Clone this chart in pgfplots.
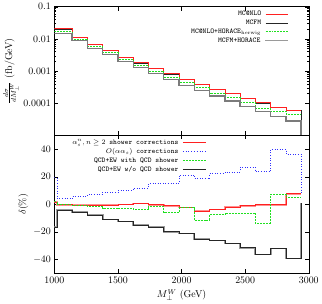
\documentclass[border=0pt]{standalone}
\usepackage{pgfplots}
\pgfplotsset{compat=1.18}
\definecolor{cred}{HTML}{FF2020}
\definecolor{cgreen}{HTML}{20E020}
\definecolor{cblue}{HTML}{3030FF}
\definecolor{cgray}{HTML}{9A9A9A}
\definecolor{cpink}{HTML}{FF9090}
\newcommand{\lsample}[1]{\hspace{4bp}\tikz[baseline=-0.55ex]\draw[#1] (0bp,0bp) -- (23bp,0bp);}
\begin{document}
\begin{tikzpicture}
\pgfplotsset{
  every axis/.append style={
    scale only axis, width=256bp, xmin=1000, xmax=3000,
    tick align=inside, major tick length=4bp, minor tick length=2bp,
    tick style={black, line width=0.4pt},
    every tick label/.append style={font=\fontsize{10}{12}\selectfont},
    label style={font=\fontsize{10}{12}\selectfont},
    xtick={1000,1500,...,3000},
    /pgf/number format/1000 sep={},
    axis line style={line width=0.6pt},
    legend cell align={right},
    legend image code/.code={},
    legend style={draw=none, fill=none, inner sep=0pt, row sep=-1.2bp,
      font=\fontsize{7.3}{8}\ttfamily,
      /tikz/every odd column/.append style={column sep=0bp}},
  },
  hist/.style={const plot mark left, no marks, forget plot},
}
\begin{axis}[name=bot, at={(0,0)}, anchor=south west, height=138.7bp,
  ymin=-50, ymax=50, ytick={-40,-20,...,40}, minor ytick={},
  xlabel={$M_\perp^W$ (GeV)}, ylabel={$\delta(\%)$},
  xlabel style={yshift=0.5bp}, ylabel style={yshift=-2bp},
  legend style={at={(rel axis cs:0.605,0.99)}, anchor=north east}]
\addplot[hist, cpink, line width=1.6bp] coordinates {
(1000,1.5) (1020,-0.3) (1140,-0.4) (1260,-0.6) (1380,-0.6) (1500,-0.2) (1620,0.5) (1740,-0.3) (1860,-1.2) (1980,-2.3) (2100,-5.0) (2220,-3.8) (2340,-2.0) (2460,-1.0) (2580,-0.7) (2700,-0.6) (2820,7.0) (2940,7.0)};
\addplot[hist, cgray, line width=1.8bp] coordinates {
(1000,-16.5) (1020,-4.3) (1140,-5.6) (1260,-7.7) (1380,-11.0) (1500,-12.4) (1620,-15.1) (1740,-16.3) (1860,-19.9) (1980,-21.1) (2100,-25.2) (2220,-26.2) (2340,-28.4) (2460,-31.5) (2580,-36.4) (2700,-32.0) (2820,-39.3) (2940,1)};
\addplot[hist, cred, line width=0.6bp] coordinates {
(1000,1.5) (1020,-0.3) (1140,-0.4) (1260,-0.5) (1380,-0.5) (1500,0.0) (1620,0.7) (1740,0.0) (1860,-0.7) (1980,-2.2) (2100,-5.2) (2220,-3.8) (2340,-1.8) (2460,-0.7) (2580,-0.3) (2700,0.3) (2820,8.0) (2940,8.0)};
\addplot[hist, cblue, line width=0.6bp, dotted] coordinates {
(1000,19.3) (1020,4.3) (1140,6.0) (1260,7.3) (1380,8.9) (1500,10.3) (1620,11.9) (1740,15.3) (1860,15.3) (1980,21.3) (2100,18.6) (2220,22.6) (2340,23.5) (2460,27.0) (2580,23.7) (2700,40.0) (2820,36.4) (2940,7.0)};
\addplot[hist, cgreen, line width=0.6bp, dash pattern=on 2bp off 1bp] coordinates {
(1000,1.9) (1020,-0.3) (1140,-0.5) (1260,-1.2) (1380,-3.2) (1500,-2.7) (1620,-3.4) (1740,-1.5) (1860,-6.1) (1980,-2.3) (2100,-11.6) (2220,-7.4) (2340,-6.3) (2460,-6.2) (2580,-13.6) (2700,7.3) (2820,4.8) (2940,4.8)};
\addplot[hist, black!85, line width=0.6bp] coordinates {
(1000,-16.5) (1020,-4.3) (1140,-5.6) (1260,-7.7) (1380,-11.0) (1500,-12.4) (1620,-15.1) (1740,-16.3) (1860,-19.9) (1980,-21.1) (2100,-25.2) (2220,-26.2) (2340,-28.4) (2460,-31.5) (2580,-36.4) (2700,-32.0) (2820,-39.3) (2940,1)};
\addlegendimage{empty legend}
\addlegendentry{$\alpha_s^n, n\geq 2$ shower corrections\lsample{cred, line width=0.8bp}}
\addlegendimage{empty legend}
\addlegendentry{$O(\alpha\alpha_s)$ corrections\lsample{cblue, line width=0.8bp, dotted}}
\addlegendimage{empty legend}
\addlegendentry{QCD+EW with QCD shower\lsample{cgreen, line width=0.8bp, dash pattern=on 2bp off 1bp}}
\addlegendimage{empty legend}
\addlegendentry{QCD+EW w/o QCD shower\lsample{black!85, line width=0.8bp}}
\end{axis}
\begin{axis}[at={(0,138.7bp)}, anchor=south west, height=129.5bp,
  ymode=log, ymin=1e-5, ymax=0.1,
  ytick={1e-4,1e-3,1e-2,1e-1}, yticklabels={0.0001,0.001,0.01,0.1},
  xticklabels={},
  ylabel={$\frac{d\sigma}{dM_\perp^W}$ (fb/GeV)},
  ylabel style={yshift=-2bp},
  legend style={at={(rel axis cs:0.93,0.98)}, anchor=north east}]
\addplot[hist, black!85, line width=0.6bp] coordinates {
(1000,0.0203) (1140,0.0109) (1260,0.00668) (1380,0.00427) (1500,0.00273) (1620,0.00179) (1740,0.00119) (1860,0.00082) (1980,0.000560) (2100,0.000393) (2220,0.000275) (2340,0.000199) (2460,0.000143) (2580,0.000103) (2700,0.000074) (2820,0.0000585) (2940,0.00001)};
\addplot[hist, cred, line width=0.6bp] coordinates {
(1000,0.0206) (1140,0.0111) (1260,0.00678) (1380,0.00433) (1500,0.00277) (1620,0.00181) (1740,0.00121) (1860,0.00083) (1980,0.000568) (2100,0.000398) (2220,0.000279) (2340,0.000202) (2460,0.000145) (2580,0.000104) (2700,0.000075) (2820,0.000059) (2940,0.000059)};
\addplot[hist, cgreen, line width=0.6bp, dash pattern=on 2bp off 1bp] coordinates {
(1000,0.0167) (1140,0.00966) (1260,0.00575) (1380,0.00376) (1500,0.00224) (1620,0.00147) (1740,0.00096) (1860,0.00063) (1980,0.000449) (2100,0.000316) (2220,0.000206) (2340,0.000148) (2460,0.000109) (2580,0.000071) (2700,0.000057) (2820,0.000045) (2940,0.000045)};
\addplot[hist, cgray!80!black, line width=1.4bp] coordinates {
(1000,0.0148) (1140,0.0088) (1260,0.0051) (1380,0.00327) (1500,0.0020) (1620,0.00127) (1740,0.00085) (1860,0.000556) (1980,0.000355) (2100,0.000251) (2220,0.000167) (2340,0.000117) (2460,0.000079) (2580,0.000056) (2700,0.000039) (2820,0.000028) (2940,0.00001)};
\addlegendimage{empty legend}
\addlegendentry{MC@NLO\lsample{cred, line width=0.8bp}}
\addlegendimage{empty legend}
\addlegendentry{MCFM\lsample{black!85, line width=0.8bp}}
\addlegendimage{empty legend}
\addlegendentry{MC@NLO+HORACE$_{\mathrm{herwig}}$\lsample{cgreen, line width=0.8bp, dash pattern=on 2bp off 1bp}}
\addlegendimage{empty legend}
\addlegendentry{MCFM+HORACE\lsample{cgray, line width=1.6bp}}
\end{axis}
\end{tikzpicture}
\end{document}
